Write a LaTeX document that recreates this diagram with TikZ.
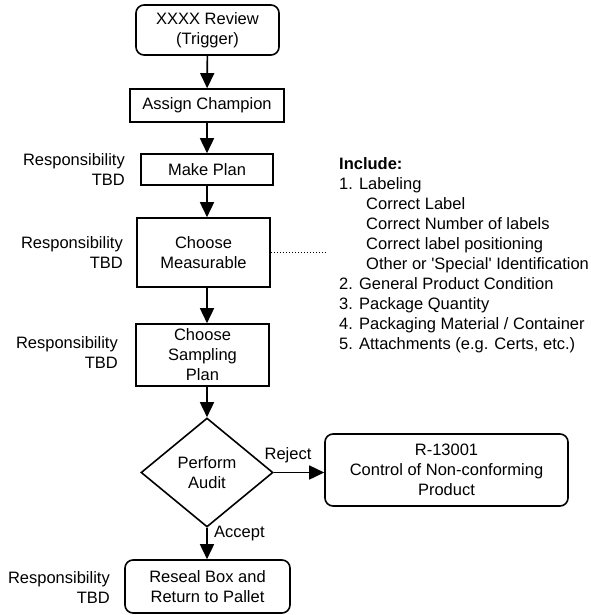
\documentclass[tikz,border=0pt]{standalone}
\usepackage{fontspec}
\setmainfont{Liberation Sans}[Ligatures=TeXOff]
\usetikzlibrary{arrows.meta,shapes.geometric}
\newcommand\fsz{\fontsize{16.5}{20}\selectfont}
\begin{document}
\begin{tikzpicture}[x=1pt,y=-1pt,
  box/.style={draw, line width=1.6pt, inner sep=0pt, align=center, font=\fsz},
  rbox/.style={box, rounded corners=8pt},
  flow/.style={line width=1.6pt, -{Triangle[width=14pt,length=15pt]}},
  resp/.style={anchor=east, align=right, inner sep=0pt, font=\fsz},
  lbl/.style={inner sep=0pt, font=\fsz}]
\useasboundingbox (0,0) rectangle (590,615);

% process steps
\node[rbox, minimum width=143pt, minimum height=50pt] (trig) at (207.5,30) {XXXX Review\\(Trigger)};
\node[box, minimum width=154pt, minimum height=33pt] (assign) at (207,105.5) {Assign Champion};
\node[box, minimum width=132pt, minimum height=31pt] (plan) at (207,169.5) {Make Plan};
\node[box, minimum width=133pt, minimum height=69pt] (meas) at (203.5,252.5) {Choose\\Measurable};
\node[box, minimum width=133pt, minimum height=62pt] (samp) at (202.5,355) {Choose\\Sampling\\Plan};
\node[draw, diamond, line width=1.6pt, inner sep=0pt, align=center, font=\fsz,
      minimum width=132pt, minimum height=109pt] (audit) at (207,472.5) {Perform\\Audit};
\node[rbox, minimum width=243pt, minimum height=72pt] (nc) at (446.5,470) {R-13001\\Control of Non-conforming\\Product};
\node[rbox, minimum width=165pt, minimum height=53pt] (reseal) at (207.5,586.5) {Reseal Box and\\Return to Pallet};

% responsibility notes
\node[resp] (r1) at (125,170) {Responsibility\\TBD};
\node[resp] (r2) at (123,253) {Responsibility\\TBD};
\node[resp] (r3) at (118,353) {Responsibility\\TBD};
\node[resp] (r4) at (110,588) {Responsibility\\TBD};

% checklist for the measurable
\node[anchor=west, align=left, inner sep=0pt, font=\fsz] (incl) at (339,255.5)
  {\textbf{Include:}\\
   1. Labeling\\
   \hspace*{27pt}Correct Label\\
   \hspace*{27pt}Correct Number of labels\\
   \hspace*{27pt}Correct label positioning\\
   \hspace*{27pt}Other or 'Special' Identification\\
   2. General Product Condition\\
   3. Package Quantity\\
   4. Packaging Material / Container\\
   5. Attachments (e.g. Certs, etc.)};
\coordinate (dotend) at (327,252.5);
\draw[line width=1.3pt, dash pattern=on 1.2pt off 1.8pt] (meas.east) -- (dotend);

% connectors
\draw[flow] (trig) -- (assign);
\draw[flow] (assign) -- (plan);
\draw[flow] (plan.south) -- (plan.south |- meas.north);
\draw[flow] (meas.south -| plan.south) -- (plan.south |- samp.north);
\draw[flow] (samp.south -| plan.south) -- (audit.north);
\draw[flow] (audit.east) -- (audit.east -| nc.west);
\draw[flow] (audit.south) -- (audit.south |- reseal.north);

% branch labels
\node[lbl] (rej) at (288,455) {Reject};
\node[lbl, anchor=west] (acc) at (214,534) {Accept};
\end{tikzpicture}
\end{document}
